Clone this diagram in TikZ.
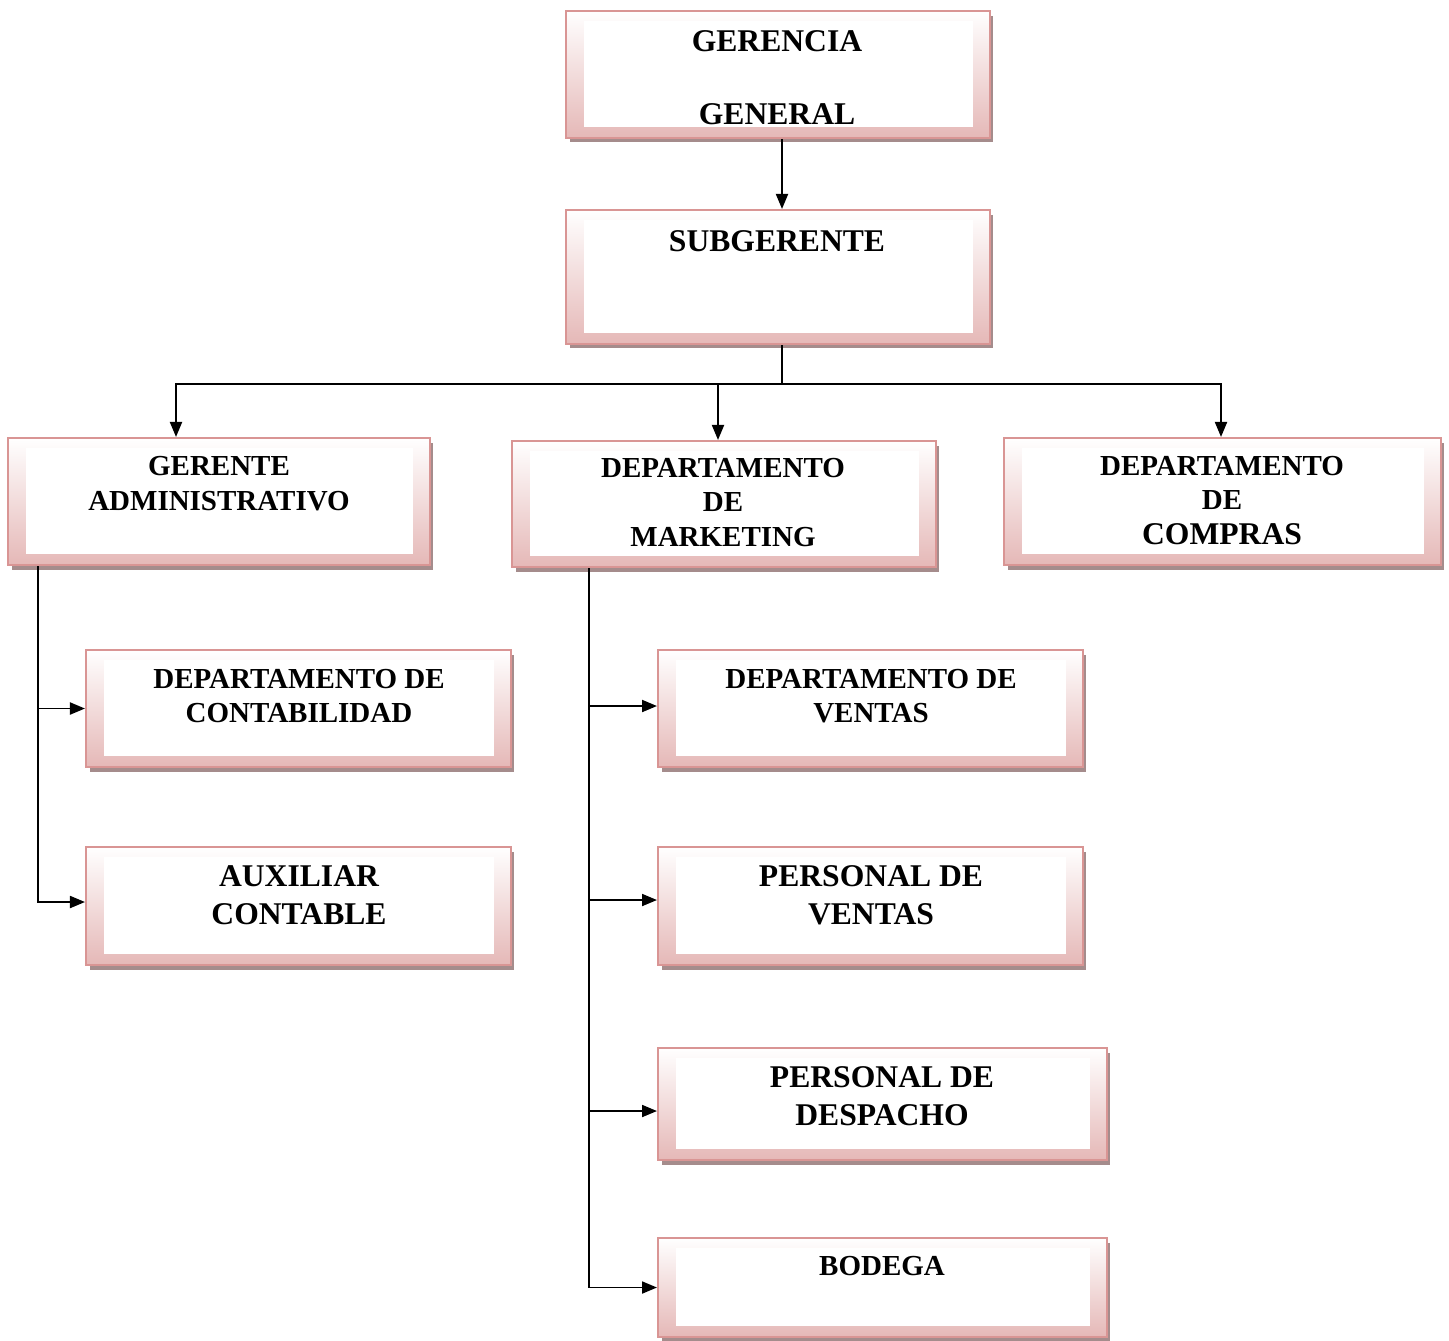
\documentclass[tikz,border=0pt]{standalone}
\usepackage{fontspec}
\setmainfont{Liberation Serif}
\usepackage{tikz}
\usetikzlibrary{positioning, arrows.meta, shadows}

\definecolor{borde}{RGB}{217,149,148}
\definecolor{rosa}{RGB}{229,184,183}
\definecolor{sombra}{RGB}{165,140,140}

\newcommand{\grande}{\fontsize{18}{21.5}\selectfont}
\newcommand{\mediana}{\fontsize{16.5}{19.8}\selectfont}

\begin{document}
\begin{tikzpicture}[x=0.02cm, y=-0.02cm, line width=1.1pt,
          flecha/.style={-{Triangle[length=0.3cm,width=0.24cm]}},
          caja/.style={draw=borde, line width=1.2pt, rectangle, inner sep=0pt,
            top color=white, bottom color=rosa,
            drop shadow={shadow xshift=0.07cm, shadow yshift=-0.09cm, fill=sombra, opacity=1},
            path picture={\fill[white]
              ([xshift=0.36cm,yshift=-0.2cm]path picture bounding box.north west) rectangle
              ([xshift=-0.34cm,yshift=0.22cm]path picture bounding box.south east);}},
          rotulo/.style={font=\bfseries\mediana, align=center, inner sep=0pt}
        ]
        \useasboundingbox (0,0) rectangle (1449,1340);

        % cajas
        \node[caja, minimum width=8.48cm, minimum height=2.54cm] (gg)   at (778,74.5)   {};
        \node[caja, minimum width=8.48cm, minimum height=2.68cm] (sub)  at (778,277)    {};
        \node[caja, minimum width=8.44cm, minimum height=2.54cm] (adm)  at (219,501.5)  {};
        \node[caja, minimum width=8.48cm, minimum height=2.52cm] (mkt)  at (724,504)    {};
        \node[caja, minimum width=8.74cm, minimum height=2.54cm] (com)  at (1222.5,501.5) {};
        \node[caja, minimum width=8.5cm,  minimum height=2.34cm] (con)  at (298.5,708.5) {};
        \node[caja, minimum width=8.5cm,  minimum height=2.36cm] (aux)  at (298.5,906)  {};
        \node[caja, minimum width=8.5cm,  minimum height=2.34cm] (ven)  at (870.5,708.5) {};
        \node[caja, minimum width=8.5cm,  minimum height=2.36cm] (pven) at (870.5,906)  {};
        \node[caja, minimum width=8.98cm, minimum height=2.24cm] (desp) at (882.5,1104) {};
        \node[caja, minimum width=8.98cm, minimum height=1.98cm] (bod)  at (882.5,1287.5) {};

        % textos
        \node[rotulo, font=\bfseries\grande] (gg-t)   at (777,77.5)  {GERENCIA\\[20pt]GENERAL};
        \node[rotulo, font=\bfseries\grande] (sub-t)  at (777,241)   {SUBGERENTE};
        \node[rotulo] (adm-t)  at (219,483.5)  {GERENTE\\ADMINISTRATIVO};
        \node[rotulo] (mkt-t)  at (723,502.5)  {DEPARTAMENTO\\DE\\MARKETING};
        \node[rotulo] (com-t)  at (1222,500.5) {DEPARTAMENTO\\DE\\{\grande COMPRAS}};
        \node[rotulo] (con-t)  at (299,696)    {DEPARTAMENTO DE\\CONTABILIDAD};
        \node[rotulo, font=\bfseries\grande] (aux-t)  at (299,895)  {AUXILIAR\\CONTABLE};
        \node[rotulo] (ven-t)  at (871,696)    {DEPARTAMENTO DE\\VENTAS};
        \node[rotulo, font=\bfseries\grande] (pven-t) at (871,895)  {PERSONAL DE\\VENTAS};
        \node[rotulo, font=\bfseries\grande] (desp-t) at (882,1096) {PERSONAL DE\\DESPACHO};
        \node[rotulo] (bod-t)  at (882,1266)   {BODEGA};

        % puntos de ramificacion
        \coordinate (ramal)   at (782,384);
        \coordinate (tronco1) at ([xshift=0.62cm]adm.south west);
        \coordinate (tronco2) at ([xshift=1.56cm]mkt.south west);

        % gerencia -> subgerente
        \draw[flecha] ([xshift=0.08cm]gg.south) -- ([xshift=0.08cm]sub.north);

        % subgerente -> departamentos
        \draw ([xshift=0.08cm]sub.south) -- (ramal);
        \draw[flecha] (ramal) -| ([xshift=-0.86cm]adm.north);
        \draw[flecha] (ramal) -| ([xshift=-0.12cm]mkt.north);
        \draw[flecha] (ramal) -| ([xshift=-0.03cm]com.north);

        % area administrativa
        \draw[flecha] (tronco1) |- (con.west);
        \draw[flecha] (tronco1) |- ([yshift=0.08cm]aux.west);

        % area de marketing
        \draw[flecha] (tronco2) |- ([yshift=0.05cm]ven.west);
        \draw[flecha] (tronco2) |- ([yshift=0.12cm]pven.west);
        \draw[flecha] (tronco2) |- ([yshift=-0.14cm]desp.west);
        \draw[flecha] (tronco2) |- (bod.west);
      \end{tikzpicture}
\end{document}
